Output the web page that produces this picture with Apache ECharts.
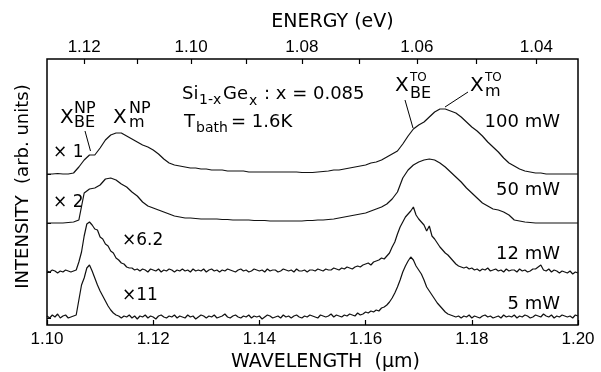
<!DOCTYPE html>
<html><head><meta charset="utf-8">
<script src="https://cdn.jsdelivr.net/npm/echarts@6/dist/echarts.min.js"></script>
<style>html,body{margin:0;padding:0;background:#fff}#c{width:601px;height:372px}</style>
</head><body><div id="c"></div>
<script>
// ---- data ----
const wavelengthStart = 1.100;      // µm, first sample
const stepCoarse = 0.001;           // sampling of the 100 mW and 50 mW spectra
const stepFine = 0.0005;            // sampling of the 12 mW and 5 mW spectra
const wavelengthTicks = [1.10, 1.12, 1.14, 1.16, 1.18, 1.20];
const energyTicks = [1.12, 1.11, 1.10, 1.09, 1.08, 1.07, 1.06, 1.05, 1.04];
const energyLabels = [1.12, 1.10, 1.08, 1.06, 1.04];
const traceNames = ['100 mW', '50 mW', '12 mW', '5 mW'];
const traceOffsets = [151, 102, 53, 7];   // waterfall baselines (arb. units)
const traceFactors = ['× 1', '× 2', '×6.2', '×11'];

const int100 = [0,0,0.5,0,0, 1,7,14,19,19, 26,34,39,41,41, 38,35,32,29,27, 24,20,15,11,9, 8,7,6,6,5,
  5,4,4,4,3, 3,3,3,2,2, 2,2,2,2,2, 2,2,2,1.5,1.5, 1.5,2,2.5,3,4, 4,5,6,7,8, 9,11,12,14,17, 20,23,30,38,45,
  49,52,57,62,65, 65,63,61,57,52, 47,43,38,32,27, 22,16,11,8,5, 3,2,1,1,0, 0,0,0,0,0, 0];
const int50 = [0,0,0,0,0.5, 1,3,30,34,35, 38,44,45,43,39, 36,31,27,21,17, 15,13,11,9,7, 6,5,5,4.5,4,
  4,4,4,3.5,3.5, 3,3,3,3,2.5, 2.5,2.5,2,2,2, 2,2,2,2,2.5, 2.5,3,3,3.5,4, 5,6,7,8,9, 10,12,14,16,19,
  24,31,45,53,58, 61,63,64,63,60, 56,51,46,41,35, 30,25,20,17,14, 13,11,8,3,2, 1,0.5,0,0,0, 0,0,0,0,0, 0];
const int12 = [1,0,2,1,-1,1,0,2,1,0, 1,2,10,20,36,48,50,47,43,42, 35,33,28,26,21,19,14,12,9,8,
  5,4,4,2,3,1,3,2,0,3,
  2,1,3,0,2,1,3,2,0,2,1,3,1,2,0,3,1,2,1,3,
  0,2,3,1,2,0,2,1,3,2,1,0,2,3,1,2,0,1,3,2,
  1,2,0,3,1,2,2,0,1,3,2,1,2,0,3,1,1,2,0,2,
  2,1,3,2,1,3,2,2,4,3,2,4,3,5,4,3,5,6,5,7,
  8,9,7,10,11,12,14,13,16,19,
  25,30,38,45,50,55,58,61,65,57,53,
  50,47,41,46,36,33,29,25,22,19,17,14,11,8,6,5,4,5,3,4,
  2,3,1,3,2,4,1,2,3,1,2,0,3,1,2,2,0,3,1,2,0,1,3,3,5,7,2,1,3,0,2,1,-1,1,0,-1,1,-2,0,-1];
const int5 = [2,0,3,1,4,0,2,3,0,1, 2,3,18,33,40,50,53,47,40,33, 27,22,17,12,8,5,3,2,0,2,
  1,3,0,2,-1,2,1,3,0,2,1,-1,2,3,1,0,2,1,3,0,
  2,1,0,3,1,2,-1,1,3,2,0,2,1,3,0,1,2,4,1,0,
  2,3,1,0,2,1,3,0,2,1,2,-1,1,3,2,0,1,2,0,3,
  1,2,0,2,3,1,0,2,1,3,2,1,0,3,2,1,2,4,1,3,
  2,1,3,2,4,3,2,5,3,4,6,5,7,6,8,7,10,11,13,16,
  20,25,31,38,46,52,57,61,58,52,48,44,38,31,27,23,19,15,12,9,
  6,4,3,2,1,2,0,2,1,3,0,2,1,0,2,3,1,2,0,1,
  2,0,3,1,2,1,3,0,2,1,3,2,0,1,3,2,1,4,2,1,3,0,2,1,3,2,1,2,0,3,2];

// ---- chart ----
const HC = 1.23984; // eV·µm, E = HC / λ
const traces = [int100, int50, int12, int5];
const steps = [stepCoarse, stepCoarse, stepFine, stepFine];
const FONT = 'DejaVu Sans';

function pairs(vals, step, off) {
  return vals.map((v, i) => [+(wavelengthStart + i * step).toFixed(5), v + off]);
}

const series = traces.map((vals, k) => ({
  name: traceNames[k], type: 'line', showSymbol: false, silent: true,
  data: pairs(vals, steps[k], traceOffsets[k]),
  lineStyle: { color: '#111', width: 1.2 }, animation: false
}));

function txt(text, x, y, size, align) {
  return { type: 'text', x: x, y: y, silent: true,
    style: { text: text, font: size + 'px "' + FONT + '"', fill: '#000',
      textAlign: align || 'left', align: align || 'left',
      textVerticalAlign: 'middle', verticalAlign: 'middle' } };
}
function seg(x1, y1, x2, y2) {
  return { type: 'line', silent: true, shape: { x1, y1, x2, y2 }, style: { stroke: '#000', lineWidth: 1 } };
}

const graphics = [
  txt(traceFactors[0], 53, 153, 17), txt(traceFactors[1], 53, 203, 17),
  txt(traceFactors[2], 122, 241, 17), txt(traceFactors[3], 122, 296, 17),
  txt(traceNames[0], 560, 122, 18, 'right'), txt(traceNames[1], 560, 190, 18, 'right'),
  txt(traceNames[2], 560, 254, 18, 'right'), txt(traceNames[3], 560, 304, 18, 'right'),
  // Si1-xGex : x = 0.085
  txt('Si', 182, 94, 18), txt('1-x', 199, 100, 14), txt('Ge', 223, 94, 18), txt('x', 249, 101, 14),
  txt(': x = 0.085', 264, 94, 18),
  // Tbath = 1.6K
  txt('T', 184, 122, 18), txt('bath', 196, 128, 14), txt('= 1.6K', 231, 122, 18),
  // exciton labels
  txt('X', 60, 117.5, 20), txt('NP', 74, 109, 16), txt('BE', 74, 123, 16),
  txt('X', 113, 117.5, 20), txt('NP', 129, 109, 16), txt('m', 129, 122.5, 16),
  txt('X', 395, 85.5, 20), txt('TO', 410, 77.5, 12), txt('BE', 410, 93.5, 16),
  txt('X', 470, 85.5, 20), txt('TO', 485, 77.5, 12), txt('m', 485, 91.5, 16),
  seg(85, 131, 90.5, 151), seg(405, 100, 413, 128), seg(445, 107, 468, 92)
];

const chart = echarts.init(document.getElementById('c'));
chart.setOption({
  animation: false,
  backgroundColor: '#fff',
  grid: { left: 47, right: 23, top: 59, bottom: 47, show: true, borderColor: '#000', borderWidth: 1.5,
    containLabel: false, outerBoundsMode: 'none' },
  xAxis: [{
    type: 'value', position: 'bottom', min: 1.10, max: 1.20, interval: 0.02,
    axisLine: { show: false }, splitLine: { show: false },
    axisTick: { show: true, inside: true, length: 5, lineStyle: { color: '#000', width: 1.2 } },
    axisLabel: { color: '#000', fontFamily: 'Liberation Sans', fontSize: 17, margin: 6,
      formatter: v => v.toFixed(2) },
    name: 'WAVELENGTH  (µm)', nameLocation: 'middle', nameGap: 27,
    nameTextStyle: { color: '#000', fontFamily: FONT, fontSize: 19, padding: [0, 0, 0, 26] }
  }, {
    type: 'value', position: 'top', min: 1.10, max: 1.20,
    axisLine: { show: false }, splitLine: { show: false },
    axisTick: { show: true, inside: true, length: 5, lineStyle: { color: '#000', width: 1.2 },
      customValues: energyTicks.map(e => HC / e) },
    axisLabel: { color: '#000', fontFamily: 'Liberation Sans', fontSize: 17, margin: 3,
      customValues: energyLabels.map(e => HC / e),
      formatter: v => (HC / v).toFixed(2) },
    name: 'ENERGY (eV)', nameLocation: 'middle', nameGap: 27,
    nameTextStyle: { color: '#000', fontFamily: FONT, fontSize: 19, padding: [0, 0, 0, 40] }
  }],
  yAxis: {
    type: 'value', min: 0, max: 266,
    axisLine: { show: false }, splitLine: { show: false },
    axisTick: { show: true, inside: true, length: 4, lineStyle: { color: '#000', width: 1 },
      customValues: traceOffsets },
    axisLabel: { show: false },
    name: 'INTENSITY  (arb. units)', nameLocation: 'middle', nameGap: 15,
    nameTextStyle: { color: '#000', fontFamily: FONT, fontSize: 18, padding: [0, 0, 0, 11] }
  },
  series: series,
  graphic: graphics
});
</script></body></html>
